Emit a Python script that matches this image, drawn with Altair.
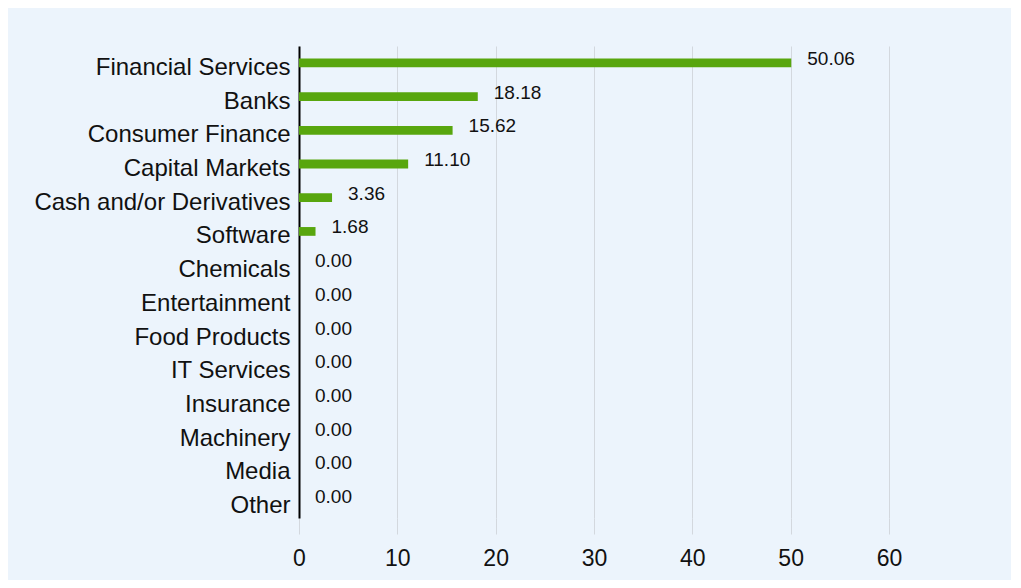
import altair as alt
import pandas as pd

categories = ["Financial Services", "Banks", "Consumer Finance", "Capital Markets",
              "Cash and/or Derivatives", "Software", "Chemicals", "Entertainment",
              "Food Products", "IT Services", "Insurance", "Machinery", "Media", "Other"]
values = [50.06, 18.18, 15.62, 11.10, 3.36, 1.68, 0.00, 0.00, 0.00, 0.00, 0.00, 0.00, 0.00, 0.00]
x_ticks = [0, 10, 20, 30, 40, 50, 60]

df = pd.DataFrame({"category": categories, "value": values})
df["label"] = df["value"].map(lambda v: f"{v:.2f}")

FONT = "Liberation Sans"
BG = "#ECF4FC"

y_enc = alt.Y("category:N", sort=categories, title=None,
              scale=alt.Scale(paddingInner=0.74, paddingOuter=0.37),
              axis=alt.Axis(labelFontSize=24, labelColor="#111111", labelFont=FONT,
                            domainColor="#000000", domainWidth=2, ticks=False,
                            labelPadding=9, labelOffset=5, labelLimit=0, grid=False))
x_enc = alt.X("value:Q", title=None,
              scale=alt.Scale(domain=[0, 60], nice=False),
              axis=alt.Axis(values=x_ticks, format="d", labelFlush=False,
                            labelFontSize=23, labelColor="#111111", labelFont=FONT,
                            domain=False, tickColor="#d3d8de", tickSize=16,
                            gridColor="#d3d8de", gridWidth=1, labelPadding=13))

bars = alt.Chart(df).mark_bar(color="#58A60E").encode(x=x_enc, y=y_enc)

labels = alt.Chart(df).mark_text(align="left", baseline="middle", dx=16, dy=-4,
                                 fontSize=19, font=FONT, color="#111111").encode(
    x="value:Q", y=alt.Y("category:N", sort=categories), text="label:N")

chart = (bars + labels).properties(
    width=590, height=472,
    background=BG,
    autosize=alt.AutoSizeParams(type="none"),
    padding={"left": 291, "top": 38, "right": 122, "bottom": 62},
).configure_view(stroke=None)

chart.save("out.html", embed_options={"renderer": "svg", "actions": False})
